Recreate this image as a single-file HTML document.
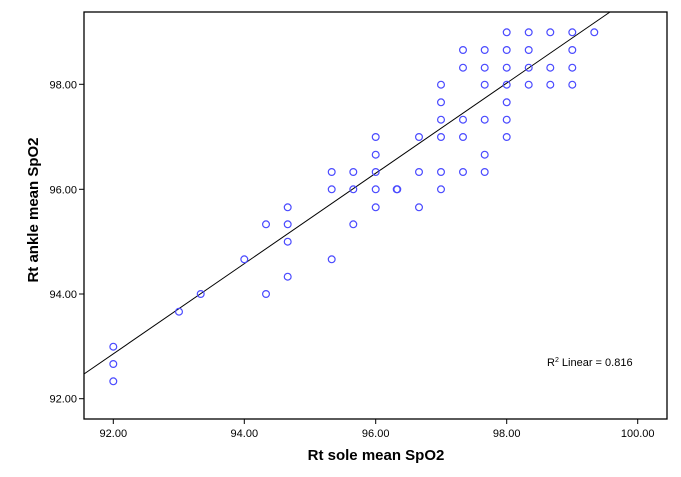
<!DOCTYPE html>
<html><head><meta charset="utf-8"><style>body{margin:0;background:#fff}</style></head><body>
<svg width="681" height="472" xmlns="http://www.w3.org/2000/svg" font-family="Liberation Sans, sans-serif">
<rect x="84" y="12" width="583" height="407" fill="#fff" stroke="#000" stroke-width="1.3"/>
<g stroke="#000" stroke-width="1">
<line x1="113.3" y1="419" x2="113.3" y2="424"/><line x1="244.3" y1="419" x2="244.3" y2="424"/><line x1="375.7" y1="419" x2="375.7" y2="424"/><line x1="506.7" y1="419" x2="506.7" y2="424"/><line x1="637.7" y1="419" x2="637.7" y2="424"/>
<line x1="79" y1="84.3" x2="84" y2="84.3"/><line x1="79" y1="189.3" x2="84" y2="189.3"/><line x1="79" y1="294" x2="84" y2="294"/><line x1="79" y1="398.7" x2="84" y2="398.7"/>
</g>
<g font-size="11" fill="#000" text-anchor="middle">
<text x="113.3" y="437">92.00</text><text x="244.3" y="437">94.00</text><text x="375.7" y="437">96.00</text><text x="506.7" y="437">98.00</text><text x="637.7" y="437">100.00</text>
</g>
<g font-size="11" fill="#000" text-anchor="end">
<text x="77" y="88.3">98.00</text><text x="77" y="193.3">96.00</text><text x="77" y="298">94.00</text><text x="77" y="402.7">92.00</text>
</g>
<text x="376" y="460" font-size="15" font-weight="bold" text-anchor="middle">Rt sole mean SpO2</text>
<text transform="translate(38,210) rotate(-90)" font-size="15" font-weight="bold" text-anchor="middle">Rt ankle mean SpO2</text>
<text x="547" y="366" font-size="11">R<tspan font-size="7" dy="-4">2</tspan><tspan dy="4"> Linear = 0.816</tspan></text>
<line x1="84" y1="374" x2="610" y2="12" stroke="#000" stroke-width="1"/>
<g fill="none" stroke="#4a4aff" stroke-width="1.2">
<circle cx="113.3" cy="346.7" r="3.4"/><circle cx="113.3" cy="364" r="3.4"/><circle cx="113.3" cy="381.3" r="3.4"/>
<circle cx="179" cy="311.7" r="3.4"/><circle cx="200.7" cy="294" r="3.4"/><circle cx="244.3" cy="259.3" r="3.4"/>
<circle cx="266" cy="224.3" r="3.4"/><circle cx="266" cy="294" r="3.4"/>
<circle cx="287.7" cy="207.3" r="3.4"/><circle cx="287.7" cy="224.3" r="3.4"/><circle cx="287.7" cy="241.7" r="3.4"/><circle cx="287.7" cy="276.7" r="3.4"/>
<circle cx="331.7" cy="172" r="3.4"/><circle cx="331.7" cy="189.3" r="3.4"/><circle cx="331.7" cy="259.3" r="3.4"/>
<circle cx="353.3" cy="172" r="3.4"/><circle cx="353.3" cy="189.3" r="3.4"/><circle cx="353.3" cy="224.3" r="3.4"/>
<circle cx="375.7" cy="137" r="3.4"/><circle cx="375.7" cy="154.7" r="3.4"/><circle cx="375.7" cy="172" r="3.4"/><circle cx="375.7" cy="189.3" r="3.4"/><circle cx="375.7" cy="207.3" r="3.4"/>
<circle cx="396.7" cy="189.3" r="3.4"/><circle cx="397.3" cy="189.3" r="3.4"/>
<circle cx="506.7" cy="32.3" r="3.4"/><circle cx="528.7" cy="32.3" r="3.4"/><circle cx="550.3" cy="32.3" r="3.4"/><circle cx="572.3" cy="32.3" r="3.4"/><circle cx="594.3" cy="32.3" r="3.4"/>
<circle cx="463" cy="50" r="3.4"/><circle cx="484.7" cy="50" r="3.4"/><circle cx="506.7" cy="50" r="3.4"/><circle cx="528.7" cy="50" r="3.4"/><circle cx="572.3" cy="50" r="3.4"/>
<circle cx="463" cy="67.7" r="3.4"/><circle cx="484.7" cy="67.7" r="3.4"/><circle cx="506.7" cy="67.7" r="3.4"/><circle cx="528.7" cy="67.7" r="3.4"/><circle cx="550.3" cy="67.7" r="3.4"/><circle cx="572.3" cy="67.7" r="3.4"/>
<circle cx="441" cy="84.7" r="3.4"/><circle cx="484.7" cy="84.7" r="3.4"/><circle cx="506.7" cy="84.7" r="3.4"/><circle cx="528.7" cy="84.7" r="3.4"/><circle cx="550.3" cy="84.7" r="3.4"/><circle cx="572.3" cy="84.7" r="3.4"/>
<circle cx="441" cy="102.3" r="3.4"/><circle cx="506.7" cy="102.3" r="3.4"/>
<circle cx="441" cy="119.7" r="3.4"/><circle cx="463" cy="119.7" r="3.4"/><circle cx="484.7" cy="119.7" r="3.4"/><circle cx="506.7" cy="119.7" r="3.4"/>
<circle cx="419" cy="137" r="3.4"/><circle cx="441" cy="137" r="3.4"/><circle cx="463" cy="137" r="3.4"/><circle cx="506.7" cy="137" r="3.4"/>
<circle cx="484.7" cy="154.7" r="3.4"/>
<circle cx="419" cy="172" r="3.4"/><circle cx="441" cy="172" r="3.4"/><circle cx="463" cy="172" r="3.4"/><circle cx="484.7" cy="172" r="3.4"/>
<circle cx="441" cy="189.3" r="3.4"/>
<circle cx="419" cy="207.3" r="3.4"/>
</g>
</svg>
</body></html>
